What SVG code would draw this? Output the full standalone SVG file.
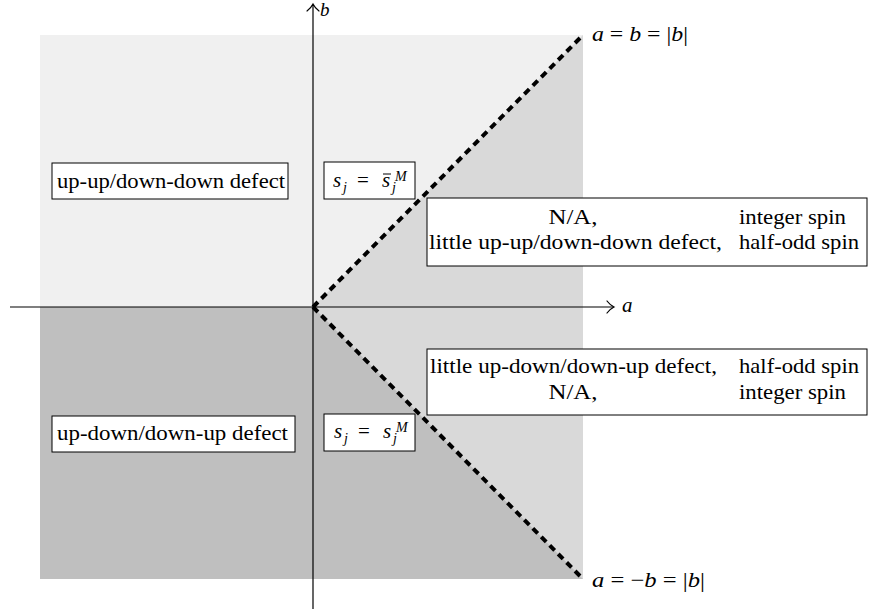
<svg xmlns="http://www.w3.org/2000/svg" width="869" height="613" viewBox="0 0 869 613" font-family="'Liberation Serif', 'DejaVu Serif', 'Noto Serif', serif">
<style>
text{font-family:"Liberation Serif","DejaVu Serif",serif;font-size:21px;fill:#000}
.i{font-style:italic}
.sm{font-size:14px}
.box{fill:#fff;stroke:#000;stroke-width:1}
.ax{stroke:#000;stroke-width:1.2;fill:none}
.tip{stroke:#000;stroke-width:1.2;fill:none;stroke-linecap:round}
.dash{stroke:#000;stroke-width:4;stroke-dasharray:7 5;fill:none}
</style>
<g id="regions">
<rect x="40" y="35" width="543" height="544" fill="#d9d9d9"/>
<polygon points="40,35 583,35 313,307 40,307" fill="#f0f0f0"/>
<polygon points="40,307 313,307 583,579 40,579" fill="#bfbfbf"/>
</g>
<g id="connectors">
<line class="ax" x1="10" y1="307" x2="613" y2="307"/>
<path class="tip" d="M607,301 Q610,305 614,307 Q610,309 607,313"/>
<line class="ax" x1="313" y1="609" x2="313" y2="5"/>
<path class="tip" d="M307,11 Q311,8 313,4 Q315,8 319,11"/>
<line class="dash" x1="313" y1="307" x2="583" y2="35"/>
<line class="dash" x1="313" y1="307" x2="583" y2="579"/>
</g>
<g id="axis-labels">
<text class="i" x="320" y="16" font-size="19" style="font-size:19px">b</text>
<text class="i" x="622" y="312">a</text>
<text x="592" y="41" textLength="96" lengthAdjust="spacingAndGlyphs"><tspan class="i">a</tspan> = <tspan class="i">b</tspan> = |<tspan class="i">b</tspan>|</text>
<text x="592" y="587" textLength="113" lengthAdjust="spacingAndGlyphs"><tspan class="i">a</tspan> = −<tspan class="i">b</tspan> = |<tspan class="i">b</tspan>|</text>
</g>
<g id="node-upup">
<rect class="box" x="52" y="163" width="236" height="36"/>
<text x="57" y="188" textLength="228" lengthAdjust="spacingAndGlyphs">up-up/down-down defect</text>
</g>
<g id="node-updown">
<rect class="box" x="52" y="416" width="243" height="36"/>
<text x="57" y="440" textLength="231" lengthAdjust="spacingAndGlyphs">up-down/down-up defect</text>
</g>
<g id="node-sbar">
<rect class="box" x="324" y="162" width="91" height="37"/>
<text class="i" x="333" y="187">s</text>
<text class="i sm" x="343" y="192">j</text>
<text x="357" y="187">=</text>
<text class="i" x="382" y="187">s</text>
<line x1="383" y1="174" x2="391" y2="174" stroke="#000" stroke-width="1"/>
<text class="i sm" x="392" y="192">j</text>
<text class="i sm" x="395" y="181">M</text>
</g>
<g id="node-s">
<rect class="box" x="324" y="414" width="91" height="37"/>
<text class="i" x="334" y="438">s</text>
<text class="i sm" x="344" y="443">j</text>
<text x="358" y="438">=</text>
<text class="i" x="383" y="438">s</text>
<text class="i sm" x="393" y="443">j</text>
<text class="i sm" x="396" y="432">M</text>
</g>
<g id="node-upper-table">
<rect class="box" x="427" y="198" width="440" height="68"/>
<text x="573" y="224" text-anchor="middle" textLength="49" lengthAdjust="spacingAndGlyphs">N/A,</text>
<text x="739" y="224" textLength="107" lengthAdjust="spacingAndGlyphs">integer spin</text>
<text x="429" y="249" textLength="293" lengthAdjust="spacingAndGlyphs">little up-up/down-down defect,</text>
<text x="739" y="249" textLength="120" lengthAdjust="spacingAndGlyphs">half-odd spin</text>
</g>
<g id="node-lower-table">
<rect class="box" x="427" y="349" width="440" height="66"/>
<text x="430" y="373" textLength="287" lengthAdjust="spacingAndGlyphs">little up-down/down-up defect,</text>
<text x="739" y="373" textLength="120" lengthAdjust="spacingAndGlyphs">half-odd spin</text>
<text x="573" y="399" text-anchor="middle" textLength="49" lengthAdjust="spacingAndGlyphs">N/A,</text>
<text x="739" y="399" textLength="107" lengthAdjust="spacingAndGlyphs">integer spin</text>
</g>
</svg>
